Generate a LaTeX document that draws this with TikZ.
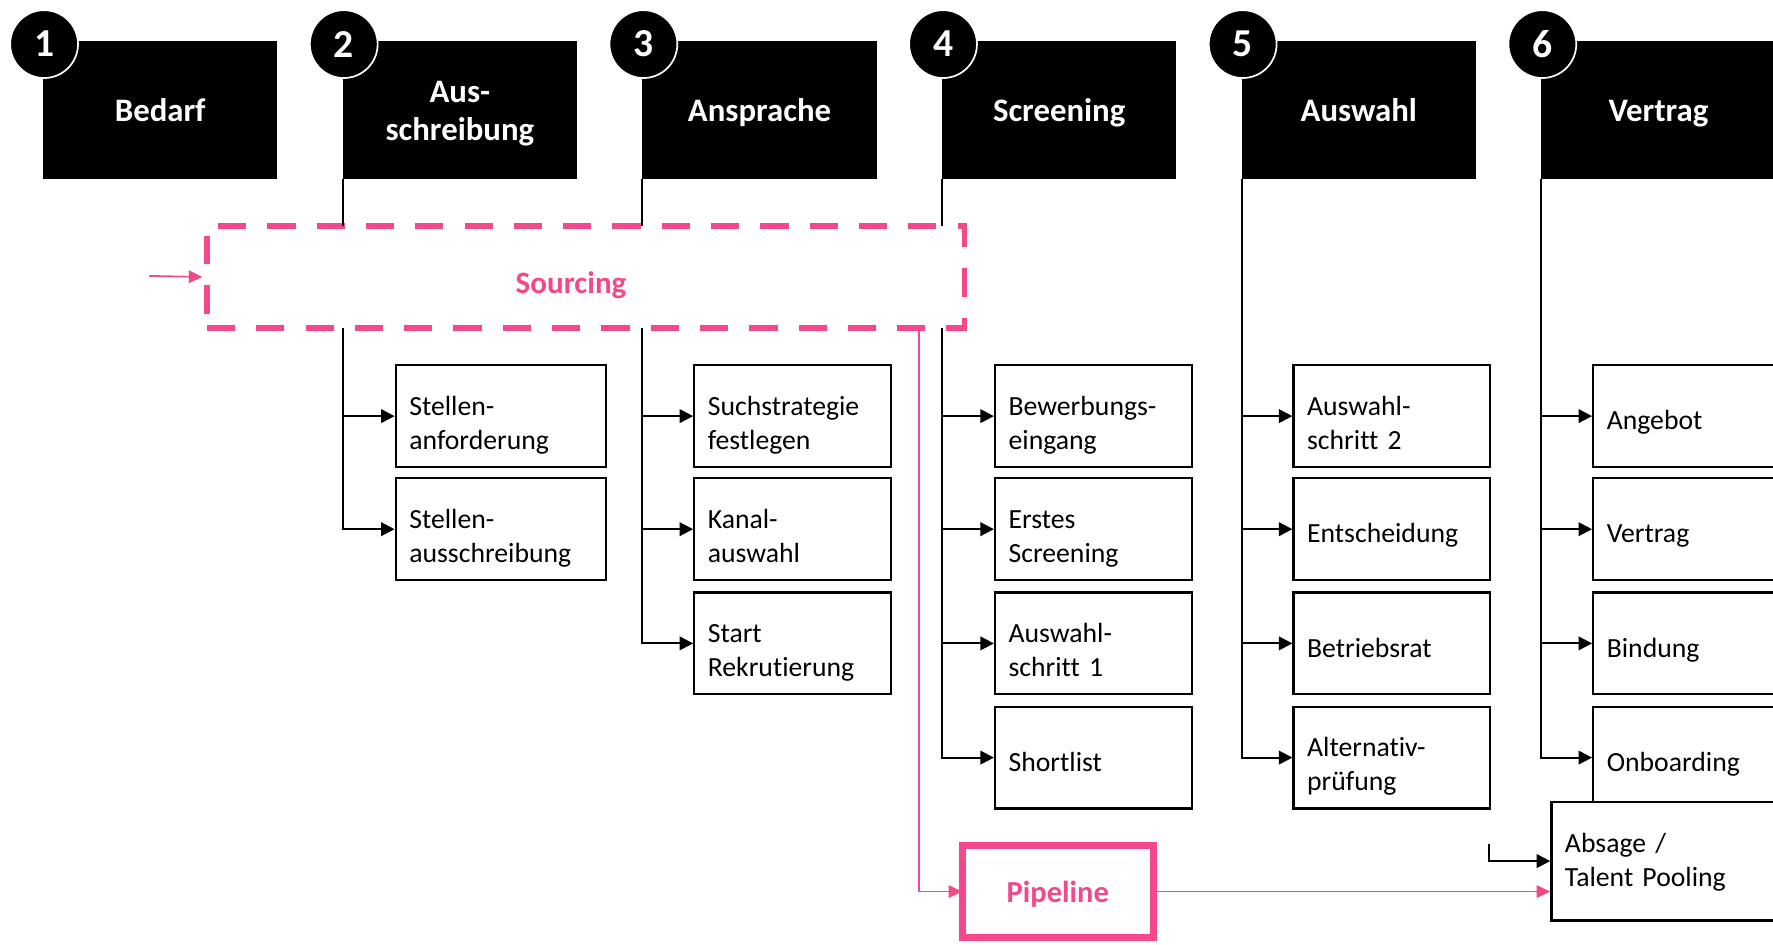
\documentclass[tikz,border=0pt]{standalone}
\usepackage{fontspec}
\setmainfont{Carlito}[Ligatures=NoCommon]
\usetikzlibrary{arrows.meta}
\definecolor{srcpink}{RGB}{244,72,140}

\tikzset{
  phase/.style={fill=black,text=white,font=\fontsize{29}{34}\selectfont\bfseries,
    align=center,minimum width=207pt,minimum height=122pt,inner sep=0pt,anchor=north west,
    text height=24pt,text depth=3.4pt},
  phasenum/.style={circle,fill=black,draw=white,line width=1.5pt,text=white,
    font=\fontsize{35}{35}\selectfont\bfseries,minimum size=60pt,inner sep=0pt},
  task/.style={draw=black,line width=2pt,fill=white,anchor=north west,minimum height=90pt,
    inner xsep=12pt,text width=150pt,align=left,font=\fontsize{24.5}{30}\selectfont,
    text height=29pt,text depth=4.6pt},
  task2/.style={task,text depth=30.6pt},
  link/.style={line width=1.8pt},
  linkarr/.style={line width=1.8pt,-{Triangle[length=12pt,width=12pt]}},
  pinkarr/.style={srcpink,line width=1.5pt,-{Triangle[length=12pt,width=11pt]}},
  pinklabel/.style={text=srcpink,font=\fontsize{27.5}{30}\selectfont\bfseries},
}

\begin{document}
\begin{tikzpicture}[x=1pt,y=-1pt]
  \clip (0,0) rectangle (1568,835);

  \node[phase] (bedarf)  at (38,36)   {Bedarf};
  \node[phase,text width=207pt,text depth=37.4pt] (ausschr) at (303,36) {Aus-\\schreibung};
  \node[phase] (anspr)   at (568,36)  {Ansprache};
  \node[phase] (screen)  at (833,36)  {Screening};
  \node[phase] (auswahl) at (1098,36) {Auswahl};
  \node[phase] (vertrag) at (1363,36) {Vertrag};

  \node[phasenum] (c1) at (39,39)   {1};
  \node[phasenum] (c2) at (304,39)  {2};
  \node[phasenum] (c3) at (569,39)  {3};
  \node[phasenum] (c4) at (834,39)  {4};
  \node[phasenum] (c5) at (1099,39) {5};
  \node[phasenum] (c6) at (1364,39) {6};

  \node[draw=srcpink,line width=5pt,dash pattern=on 25pt off 18.6pt,anchor=north west,
    outer sep=0pt,minimum width=670pt,minimum height=90pt] (src) at (183,200) {};
  \node[pinklabel] (srctext) at (505,252) {Sourcing};
  \coordinate (srcin) at (132,244);
  \draw[pinkarr,shorten >=4pt] (srcin) -- (src.west);

  % Ausschreibung
  \draw[link] (ausschr.south west) -- (ausschr.south west |- src.north);
  \node[task2,text width=162pt] (stanf) at (349,322) {Stellen-\\anforderung};
  \node[task2,text width=162pt] (staus) at (349,422) {Stellen-\\ausschreibung};
  \draw[linkarr] (ausschr.south west |- src.south) |- (staus.west);
  \draw[linkarr] (ausschr.south west |- stanf.west) -- (stanf.west);

  % Ansprache
  \draw[link] (anspr.south west) -- (anspr.south west |- src.north);
  \node[task2] (such)  at (613,322) {Suchstrategie\\festlegen};
  \node[task2] (kanal) at (613,422) {Kanal-\\auswahl};
  \node[task2] (start) at (613,523) {Start\\Rekrutierung};
  \draw[linkarr] (anspr.south west |- src.south) |- (start.west);
  \draw[linkarr] (anspr.south west |- such.west) -- (such.west);
  \draw[linkarr] (anspr.south west |- kanal.west) -- (kanal.west);

  % Screening
  \draw[link] (screen.south west) -- (screen.south west |- src.north);
  \node[task2] (bew)   at (879,322) {Bewerbungs-\\eingang};
  \node[task2] (erst)  at (879,422) {Erstes\\Screening};
  \node[task2] (ausw1) at (879,523) {Auswahl-\\schritt 1};
  \node[task]  (short) at (879,624) {Shortlist};
  \draw[linkarr] (screen.south west |- src.south) |- (short.west);
  \draw[linkarr] (screen.south west |- bew.west) -- (bew.west);
  \draw[linkarr] (screen.south west |- erst.west) -- (erst.west);
  \draw[linkarr] (screen.south west |- ausw1.west) -- (ausw1.west);

  % Auswahl
  \node[task2] (ausw2)  at (1143,322) {Auswahl-\\schritt 2};
  \node[task]  (entsch) at (1143,422) {Entscheidung};
  \node[task]  (betr)   at (1143,523) {Betriebsrat};
  \node[task2] (altern) at (1143,624) {Alternativ-\\prüfung};
  \draw[linkarr] (auswahl.south west) |- (altern.west);
  \draw[linkarr] (auswahl.south west |- ausw2.west) -- (ausw2.west);
  \draw[linkarr] (auswahl.south west |- entsch.west) -- (entsch.west);
  \draw[linkarr] (auswahl.south west |- betr.west) -- (betr.west);

  % Vertrag
  \node[task] (angeb) at (1408,322) {Angebot};
  \node[task] (vertr) at (1408,422) {Vertrag};
  \node[task] (bind)  at (1408,523) {Bindung};
  \node[task] (onb)   at (1408,624) {Onboarding};
  \draw[linkarr] (vertrag.south west) |- (onb.west);
  \draw[linkarr] (vertrag.south west |- angeb.west) -- (angeb.west);
  \draw[linkarr] (vertrag.south west |- vertr.west) -- (vertr.west);
  \draw[linkarr] (vertrag.south west |- bind.west) -- (bind.west);

  \node[task,text width=186pt,minimum height=105pt,text depth=44pt] (absage) at (1371,708)
    {Absage /\\Talent Pooling};
  \coordinate (absin) at (1317,746);
  \draw[linkarr] (absin) |- (absage.west);

  % Pipeline
  \node[draw=srcpink,line width=6pt,anchor=north west,outer sep=0pt,minimum width=169pt,
    minimum height=81pt,pinklabel,font=\fontsize{27}{30}\selectfont\bfseries,
    text depth=0pt] (pipe) at (851,748) {Pipeline};
  \coordinate (pdrop) at (813,290);
  \draw[pinkarr] (pdrop) |- (pipe.west);
  \draw[pinkarr] (pipe.east) -- (pipe.east -| absage.west);
\end{tikzpicture}
\end{document}
